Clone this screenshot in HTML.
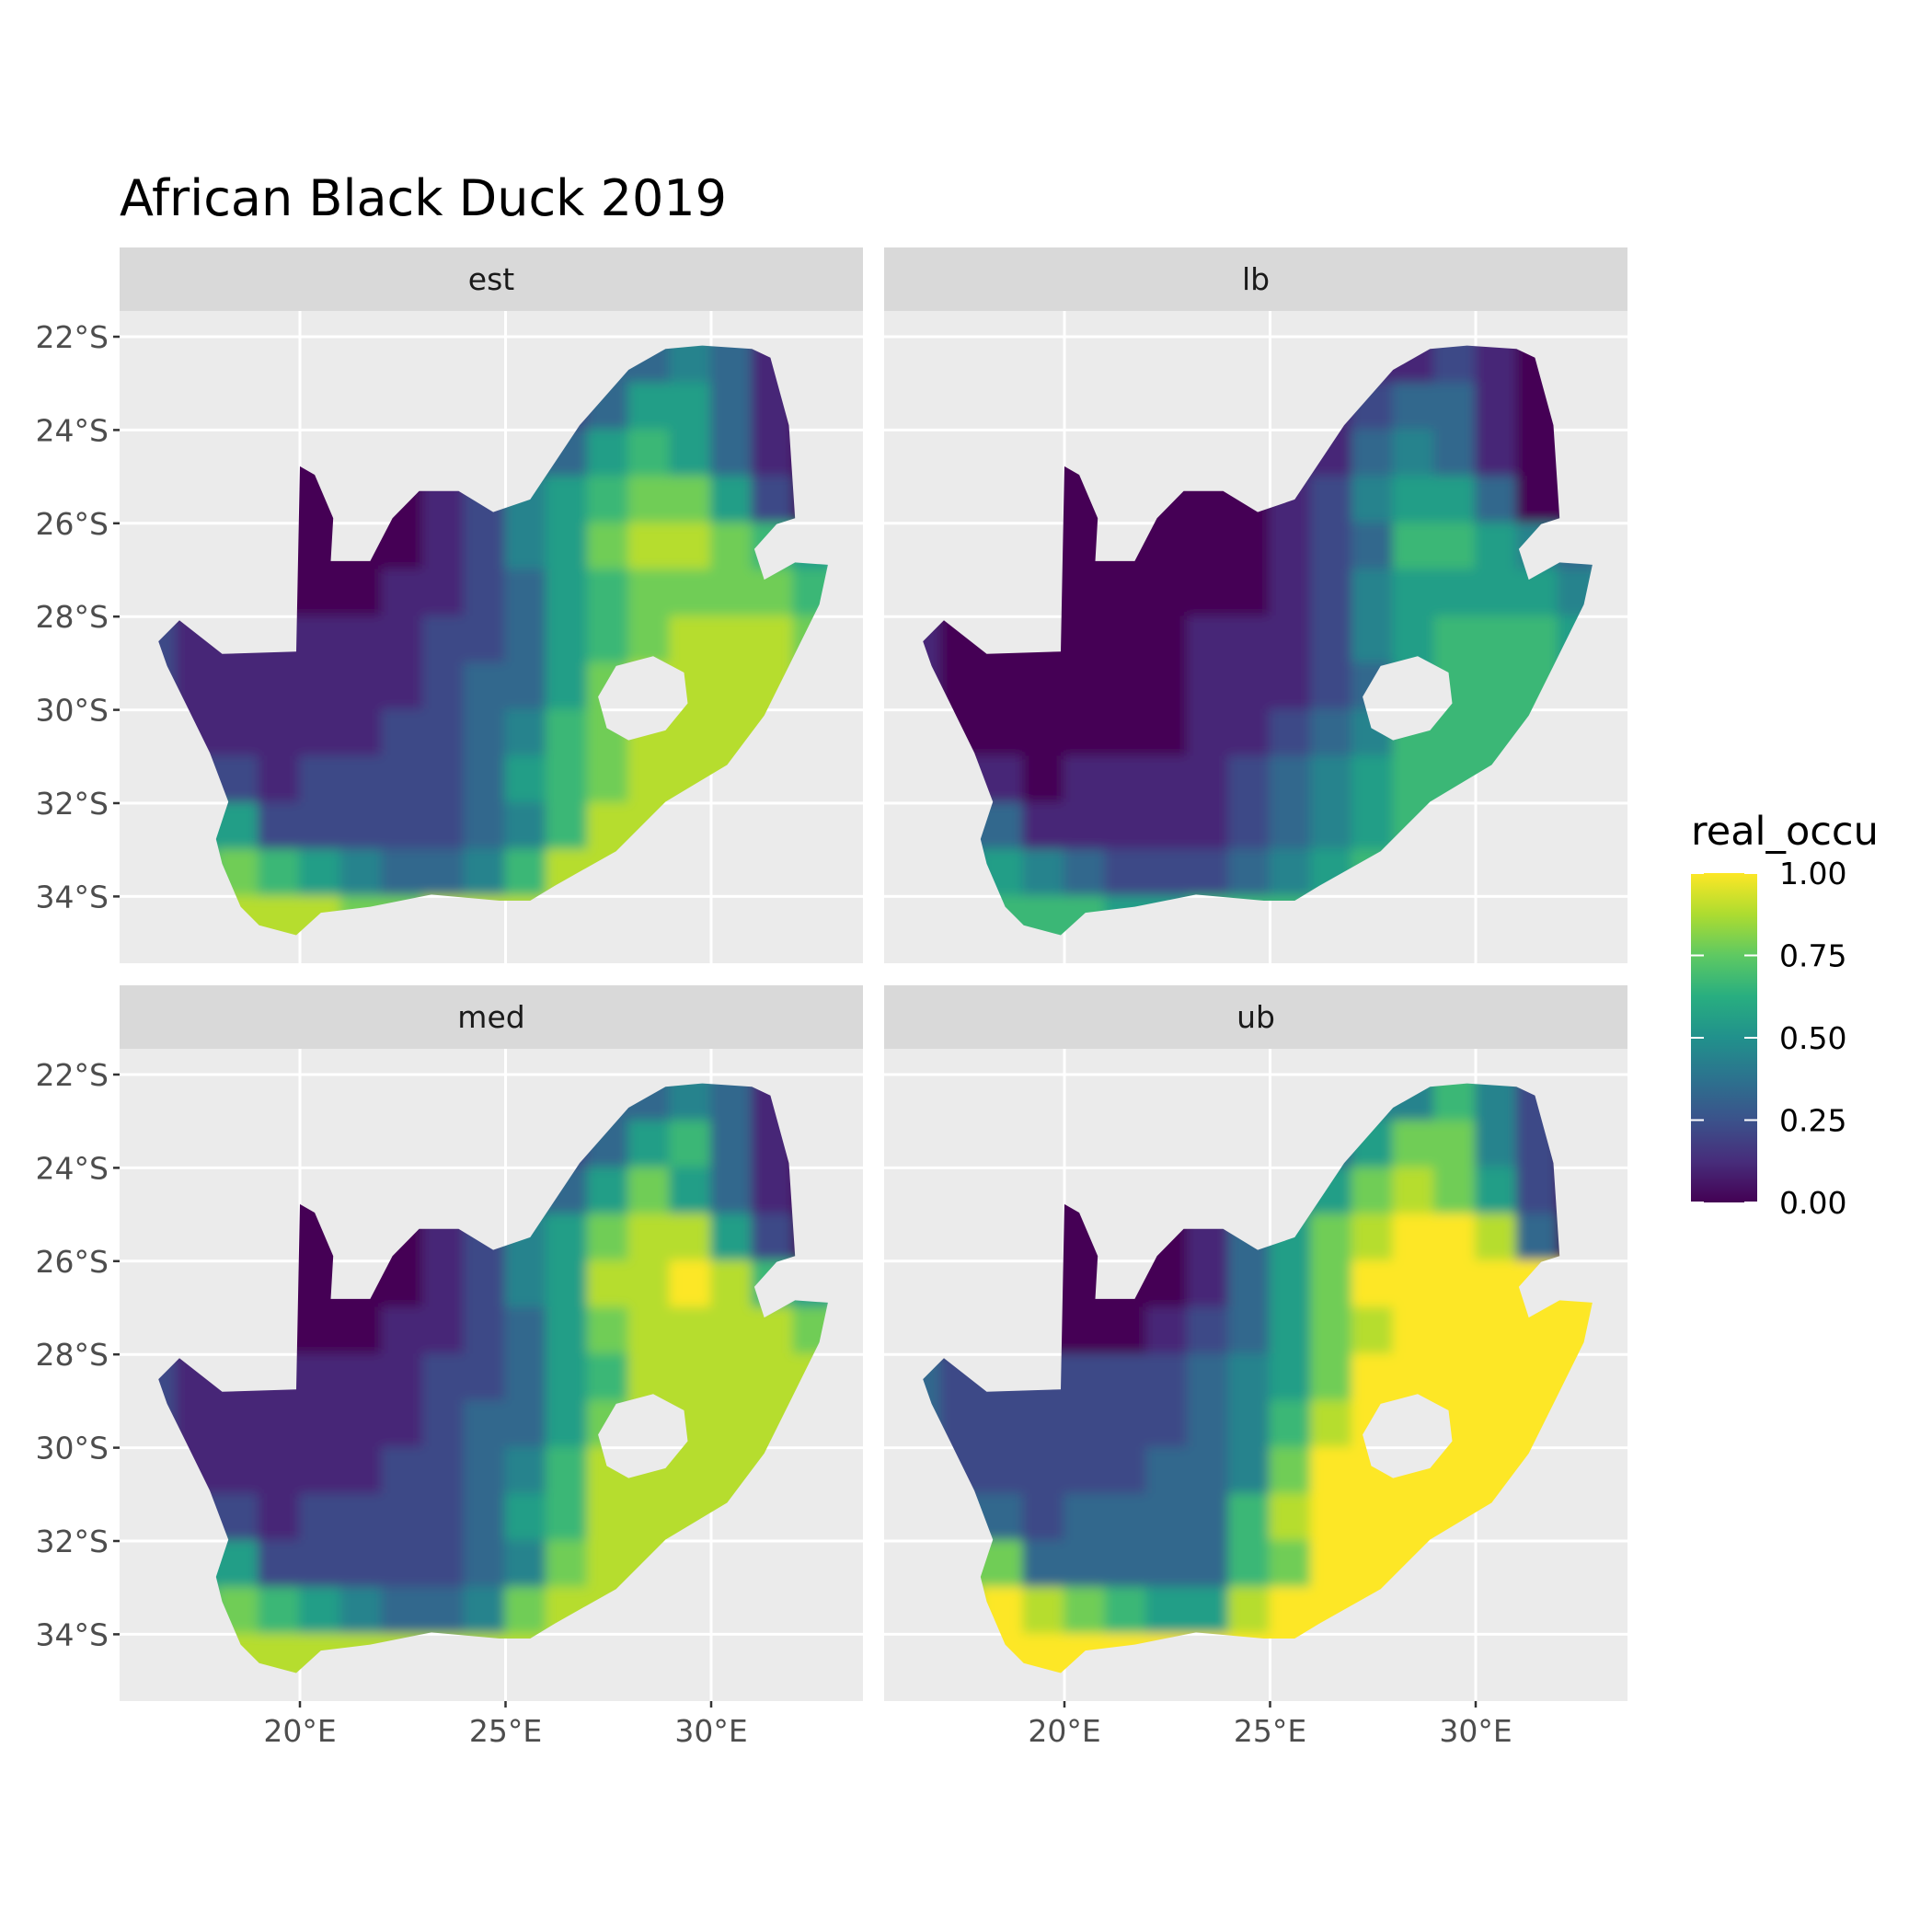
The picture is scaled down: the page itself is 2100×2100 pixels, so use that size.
<!DOCTYPE html>
<html><head><meta charset="utf-8"><style>
html,body{margin:0;padding:0;background:#fff;}
svg{display:block;font-family:"DejaVu Sans","Liberation Sans",sans-serif;}
</style></head><body>
<svg id="chart" width="2100" height="2100" viewBox="0 0 2100 2100" xmlns="http://www.w3.org/2000/svg">
<defs>
<linearGradient id="vir" x1="0" y1="1" x2="0" y2="0">
<stop offset="0" stop-color="#440154"/><stop offset="0.125" stop-color="#472d7b"/><stop offset="0.25" stop-color="#3b528b"/><stop offset="0.375" stop-color="#2c728e"/><stop offset="0.5" stop-color="#21918c"/><stop offset="0.625" stop-color="#28ae80"/><stop offset="0.75" stop-color="#5ec962"/><stop offset="0.875" stop-color="#addc30"/><stop offset="1" stop-color="#fde725"/>
</linearGradient>
<filter id="soft" x="-5%" y="-5%" width="110%" height="110%"><feGaussianBlur stdDeviation="6"/></filter>
</defs>
<text x="130" y="234" font-size="54" fill="#000">African Black Duck 2019</text>
<g id="panels"></g>
<g>
<text x="1838" y="918" font-size="43" fill="#000">real_occu</text>
<rect x="1838" y="949" width="72" height="358" fill="url(#vir)"/>
<g id="legticks"></g>
</g>
</svg>
<script>
const NS="http://www.w3.org/2000/svg";
const panelNames=["est","lb","med","ub"];
const lonTicks=[20,25,30];
const latTicks=[22,24,26,28,30,32,34];
const legendTicks=[0,0.25,0.5,0.75,1];
const legendLabels=["0.00","0.25","0.50","0.75","1.00"];
const gridLon0=16; const gridLat0=22;
const gridEst=["00000000000334310","00000000002355310","00000000033565310","00000001245677520","00000001245788765","00000011235677776","21111112235678887","21111112335788887","11111122346788888","22212222356788888","55522222346888888","66765433468888888","88888778888888888"];
const gridLb=["00000000000112100","00000000001233100","00000000011343100","00000000012455300","00000000012366543","00000000012455554","10000001112456665","10000001112356665","00000001123466666","11101111234566666","33311111234566666","44543222345666666","66666556666666666"];
const gridMed=["00000000000334310","00000000002356310","00000000033575310","00000001245788520","00000001245889865","00000011235788887","21111112235688888","21111112335788888","11111122346888888","22212222356888888","55522222347888888","66765433478888888","88888888888888888"];
const gridUb=["00000000000446420","00000000003577420","00000000045787520","00000001357899830","00000001357999999","00000012357899999","32222223457999999","32222223468999999","22222233479999999","33323333689999999","77733333679999999","88987655899999999","99999999999999999"];
const grids=[gridEst,gridLb,gridMed,gridUb];
const outline=[[16.56,28.53],[17.07,28.08],[18.11,28.8],[19.91,28.75],[20.0,24.78],[20.36,24.96],[20.81,25.89],[20.75,26.81],[21.71,26.81],[22.25,25.89],[22.9,25.31],[23.86,25.31],[24.7,25.76],[25.6,25.49],[26.8,23.9],[27.99,22.71],[28.89,22.26],[29.79,22.19],[30.99,22.26],[31.44,22.45],[31.89,23.9],[32.04,25.89],[31.59,26.02],[31.05,26.55],[31.29,27.21],[32.04,26.84],[32.84,26.89],[32.63,27.74],[31.89,29.06],[31.29,30.12],[30.39,31.18],[28.89,31.97],[27.69,33.03],[26.2,33.77],[25.6,34.09],[24.85,34.09],[23.2,33.96],[21.71,34.22],[20.51,34.35],[19.91,34.83],[19.01,34.62],[18.56,34.22],[18.11,33.3],[17.96,32.77],[18.26,31.97],[17.81,30.92],[17.22,29.86],[16.77,29.06]];
const lesotho=[[27.25,29.72],[27.69,29.06],[28.59,28.85],[29.34,29.2],[29.43,29.86],[28.89,30.44],[27.99,30.65],[27.46,30.39]];

const vstops=["#440154","#472d7b","#3b528b","#2c728e","#21918c","#28ae80","#5ec962","#addc30","#fde725"];
function hex(h){return [1,3,5].map(i=>parseInt(h.substr(i,2),16));}
function viridis(t){t=Math.max(0,Math.min(1,t));const p=t*8,i=Math.min(7,Math.floor(p)),f=p-i;const a=hex(vstops[i]),b=hex(vstops[i+1]);return "rgb("+a.map((v,k)=>Math.round(v+(b[k]-v)*f)).join(",")+")";}
function mk(tag,attrs,parent){const e=document.createElementNS(NS,tag);for(const k in attrs)e.setAttribute(k,attrs[k]);parent.appendChild(e);return e;}

const panelsG=document.getElementById("panels");
const PW=808, PH=709, SH=69, degX=44.7, degY=50.7;
const colX=[130,961], stripTops=[269,1071];
panelNames.forEach((name,i)=>{
  const c=i%2, r=Math.floor(i/2);
  const px=colX[c], stripTop=stripTops[r], py=stripTop+SH;
  const sx=lon=>px+196+(lon-20)*degX;
  const sy=lat=>py+28+(lat-22)*degY;
  const g=mk("g",{},panelsG);
  
  
  const strip=mk("rect",{x:px,y:stripTop,width:PW,height:SH,fill:"#d9d9d9"},g);
  
  
  const st=mk("text",{x:px+PW/2,y:stripTop+46,"text-anchor":"middle","font-size":"33",fill:"#1a1a1a"},g);
  st.textContent=name;
  
  
  const bg=mk("rect",{x:px,y:py,width:PW,height:PH,fill:"#ebebeb"},g);
  
  
  lonTicks.forEach(l=>{const ln=mk("line",{x1:sx(l),x2:sx(l),y1:py,y2:py+PH,stroke:"#fff","stroke-width":3},g);
    });
  latTicks.forEach(l=>{const ln=mk("line",{x1:px,x2:px+PW,y1:sy(l),y2:sy(l),stroke:"#fff","stroke-width":3},g);
    });
  const cid="clip"+i;
  const cp=mk("clipPath",{id:cid},g);
  const toPts=arr=>arr.map(p=>"L"+sx(p[0]).toFixed(1)+","+sy(p[1]).toFixed(1)).join("").replace(/^L/,"M")+"Z";
  mk("path",{d:toPts(outline)+toPts(lesotho),"clip-rule":"evenodd"},cp);
  const map=mk("g",{"clip-path":"url(#"+cid+")"},g);
  
  
  const cells=mk("g",{filter:"url(#soft)"},map);
  grids[i].forEach((row,ri)=>{
    for(let ci=0;ci<row.length;ci++){
      const v=parseInt(row[ci])/9;
      const lon=gridLon0+ci, lat=gridLat0+ri;
      const rc=mk("rect",{x:sx(lon)-1,y:sy(lat)-1,width:degX+2,height:degY+2,fill:viridis(v)},cells);
      
      
    }
  });
  if(c===0){
    latTicks.forEach(l=>{
      mk("line",{x1:px-7,x2:px,y1:sy(l),y2:sy(l),stroke:"#333","stroke-width":2.5},g);
      const t=mk("text",{x:px-12,y:sy(l)+12,"text-anchor":"end","font-size":"33",fill:"#4d4d4d"},g);
      t.textContent=l+"°S";
      
      
    });
  }
  if(r===1){
    lonTicks.forEach(l=>{
      mk("line",{x1:sx(l),x2:sx(l),y1:py+PH,y2:py+PH+7,stroke:"#333","stroke-width":2.5},g);
      const t=mk("text",{x:sx(l),y:py+PH+44,"text-anchor":"middle","font-size":"33",fill:"#4d4d4d"},g);
      t.textContent=l+"°E";
      
      
    });
  }
});
const lt=document.getElementById("legticks");
legendTicks.forEach((v,k)=>{
  const y=1307-v*358;
  mk("line",{x1:1838,x2:1852,y1:y,y2:y,stroke:"#fff","stroke-width":2},lt);
  mk("line",{x1:1896,x2:1910,y1:y,y2:y,stroke:"#fff","stroke-width":2},lt);
  const t=mk("text",{x:1934,y:y+12,"font-size":"33",fill:"#000"},lt);
  t.textContent=legendLabels[k];
  
  
});
</script>
</body></html>
